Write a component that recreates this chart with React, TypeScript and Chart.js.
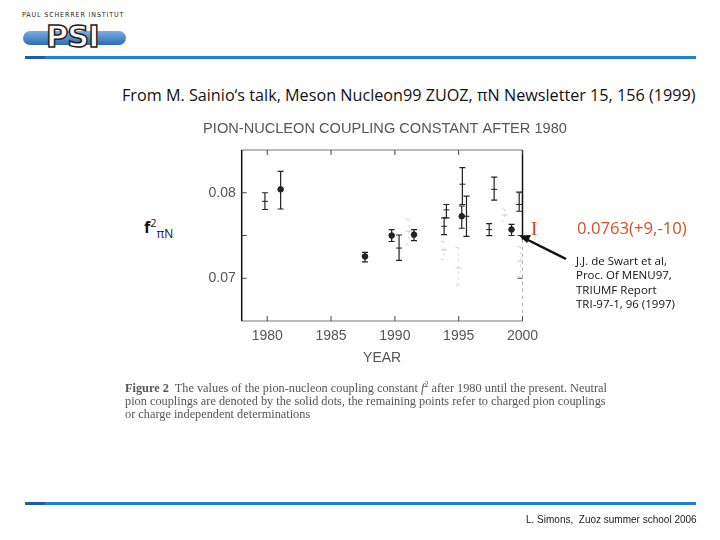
import React, { useEffect, useRef } from "react";
import { Chart, registerables } from "chart.js";

Chart.register(...registerables);

// ---- data ----
const neutralYears = [1981.05, 1987.66, 1989.75, 1991.5, 1995.24, 1999.14];
const neutralValues = [0.0804, 0.07255, 0.075, 0.0751, 0.07725, 0.0757];
const neutralErrUp = [0.0021, 0.00047, 0.0007, 0.0006, 0.0012, 0.0006];
const neutralErrDown = [0.0023, 0.00063, 0.0007, 0.0007, 0.0014, 0.0007];

const chargedYears = [1979.82, 1990.33, 1993.86, 1994.04, 1995.29, 1995.61, 1997.39, 1997.78, 1999.74];
const chargedValues = [0.079, 0.07353, 0.07608, 0.078, 0.081, 0.07725, 0.07569, 0.0804, 0.07863];
const chargedErrUp = [0.001, 0.00153, 0.00098, 0.00063, 0.00194, 0.00236, 0.0007, 0.00144, 0.00145];
const chargedErrDown = [0.00096, 0.00145, 0.00098, 0.00094, 0.00237, 0.00235, 0.00071, 0.00126, 0.00079];

const faintYears = [1991.1, 1993.86, 1995.0, 1998.6, 1999.85];
const faintValues = [0.0755, 0.0733, 0.0712, 0.0774, 0.072];
const faintErrUp = [0.0014, 0.001, 0.0024, 0.0007, 0.0017];
const faintErrDown = [0.0015, 0.0011, 0.002, 0.0007, 0.0018];

const xTicks = [1980, 1985, 1990, 1995, 2000];
const yTicks = [0.07, 0.075, 0.08];
const yTickLabels = ["0.07", "", "0.08"];

const chartTitle = "PION-NUCLEON COUPLING CONSTANT AFTER 1980";
const xTitle = "YEAR";

const toPoints = (xs: number[], ys: number[]) => xs.map((x, i) => ({ x, y: ys[i] }));

const errorBarPlugin = {
  id: "errorBars",
  beforeDatasetsDraw(chart: any) {
    const { ctx, scales } = chart;
    const xs = scales.x;
    const ys = scales.y;
    chart.data.datasets.forEach((ds: any) => {
      const eb = ds.errorBars;
      if (!eb) return;
      ctx.save();
      ctx.strokeStyle = eb.color;
      ctx.lineWidth = eb.width;
      ctx.setLineDash(eb.dash || []);
      ds.data.forEach((p: any, i: number) => {
        const px = xs.getPixelForValue(p.x);
        const yt = ys.getPixelForValue(p.y + eb.up[i]);
        const yb = ys.getPixelForValue(p.y - eb.down[i]);
        ctx.beginPath();
        ctx.moveTo(px, yt);
        ctx.lineTo(px, yb);
        ctx.moveTo(px - 3, yt);
        ctx.lineTo(px + 3, yt);
        ctx.moveTo(px - 3, yb);
        ctx.lineTo(px + 3, yb);
        ctx.stroke();
      });
      ctx.restore();
    });
  },
};

const framePlugin = {
  id: "frame",
  afterDraw(chart: any) {
    const { ctx, chartArea: a, scales } = chart;
    const darkEnd = scales.y.getPixelForValue(0.0745);
    ctx.save();
    ctx.lineWidth = 1.2;
    ctx.strokeStyle = "#777";
    ctx.beginPath();
    ctx.moveTo(a.left, a.top);
    ctx.lineTo(a.right, a.top);
    ctx.moveTo(a.left, a.bottom);
    ctx.lineTo(a.right, a.bottom);
    ctx.stroke();
    ctx.strokeStyle = "#111";
    ctx.lineWidth = 1.5;
    ctx.beginPath();
    ctx.moveTo(a.left, a.top);
    ctx.lineTo(a.left, a.bottom);
    ctx.moveTo(a.right, a.top);
    ctx.lineTo(a.right, darkEnd);
    ctx.stroke();
    ctx.strokeStyle = "#aaa";
    ctx.lineWidth = 1;
    ctx.setLineDash([3, 4]);
    ctx.beginPath();
    ctx.moveTo(a.right, darkEnd);
    ctx.lineTo(a.right, a.bottom);
    ctx.stroke();
    ctx.setLineDash([]);
    ctx.strokeStyle = "#444";
    ctx.lineWidth = 1;
    ctx.beginPath();
    xTicks.forEach((v) => {
      const px = scales.x.getPixelForValue(v);
      ctx.moveTo(px, a.top);
      ctx.lineTo(px, a.top + 5);
      ctx.moveTo(px, a.bottom);
      ctx.lineTo(px, a.bottom - 5);
    });
    yTicks.forEach((v) => {
      const py = scales.y.getPixelForValue(v);
      ctx.moveTo(a.left, py);
      ctx.lineTo(a.left + 5, py);
      ctx.moveTo(a.right, py);
      ctx.lineTo(a.right - 5, py);
    });
    ctx.stroke();
    ctx.restore();
  },
};

function CouplingChart() {
  const ref = useRef<HTMLCanvasElement | null>(null);
  useEffect(() => {
    if (!ref.current) return;
    const font = { family: "'Liberation Sans', Arial, sans-serif", size: 14 };
    const chart = new Chart(ref.current, {
      type: "scatter",
      data: {
        datasets: [
          {
            label: "faint",
            data: toPoints(faintYears, faintValues),
            pointStyle: "line",
            pointRadius: 3,
            borderColor: "#c8c8c8",
            borderWidth: 1,
            errorBars: { up: faintErrUp, down: faintErrDown, color: "#cfcfcf", width: 1, dash: [2, 4] },
          } as any,
          {
            label: "charged",
            data: toPoints(chargedYears, chargedValues),
            pointStyle: "line",
            pointRadius: 3,
            borderColor: "#222",
            borderWidth: 1,
            errorBars: { up: chargedErrUp, down: chargedErrDown, color: "#222", width: 1.2 },
          } as any,
          {
            label: "neutral",
            data: toPoints(neutralYears, neutralValues),
            pointStyle: "circle",
            pointRadius: 2.8,
            backgroundColor: "#222",
            borderColor: "#222",
            borderWidth: 1,
            errorBars: { up: neutralErrUp, down: neutralErrDown, color: "#222", width: 1.2 },
          } as any,
        ],
      },
      options: {
        animation: false,
        responsive: true,
        maintainAspectRatio: false,
        layout: { padding: 0 },
        plugins: {
          legend: { display: false },
          tooltip: { enabled: false },
          title: {
            display: true,
            text: chartTitle,
            color: "#555",
            font: { ...font, size: 14.6, weight: "normal" },
            padding: { top: 9.8, bottom: 12.7 },
          },
        },
        scales: {
          x: {
            type: "linear",
            min: 1978,
            max: 2000,
            afterBuildTicks: (s: any) => {
              s.ticks = xTicks.map((v) => ({ value: v }));
            },
            afterFit: (s: any) => {
              s.height = 49;
            },
            ticks: { color: "#555", font, padding: 7, callback: (v: any) => String(v), maxRotation: 0 },
            grid: { display: false, drawTicks: false },
            border: { display: false },
            title: {
              display: true,
              text: xTitle,
              color: "#555",
              font,
              padding: { top: 0, bottom: 3 },
            },
          },
          y: {
            type: "linear",
            min: 0.065,
            max: 0.085,
            afterBuildTicks: (s: any) => {
              s.ticks = yTicks.map((v) => ({ value: v }));
            },
            afterFit: (s: any) => {
              s.width = 61.7;
            },
            ticks: {
              color: "#555",
              font,
              padding: 6,
              callback: (v: any) => {
                const i = yTicks.findIndex((t) => Math.abs(t - v) < 1e-9);
                return i >= 0 ? yTickLabels[i] : "";
              },
            },
            grid: { display: false, drawTicks: false },
            border: { display: false },
          },
          yRight: {
            type: "linear",
            position: "right",
            display: true,
            afterFit: (s: any) => {
              s.width = 67.5;
            },
            ticks: { display: false },
            grid: { display: false, drawTicks: false },
            border: { display: false },
          },
        },
      } as any,
      plugins: [errorBarPlugin, framePlugin],
    });
    return () => chart.destroy();
  }, []);
  return (
    <div style={{ position: "absolute", left: 180, top: 110, width: 410, height: 260 }}>
      <canvas ref={ref} />
    </div>
  );
}

export default function App() {
  useEffect(() => {
    document.body.style.margin = "0";
  }, []);
  const comic = "'Open Sans', 'DejaVu Sans', sans-serif";
  const abs = (l: number, t: number, extra: React.CSSProperties = {}): React.CSSProperties => ({
    position: "absolute",
    left: l,
    top: t,
    whiteSpace: "nowrap",
    ...extra,
  });
  return (
    <div style={{ position: "absolute", left: 0, top: 0, width: 720, height: 540, background: "#fff", overflow: "hidden" }}>
      {/* Logo */}
      <div style={abs(22, 11, { fontFamily: "'DejaVu Sans Condensed', 'DejaVu Sans', sans-serif", fontSize: 7, letterSpacing: 0.9, color: "#222" })}>
        PAUL SCHERRER INSTITUT
      </div>
      <div
        style={abs(23, 31, {
          width: 103,
          height: 14,
          borderRadius: 7,
          background: "linear-gradient(#7aaee2, #2e6cb4)",
        })}
      />
      <div
        style={abs(46, 21, {
          fontFamily: "'DejaVu Sans', sans-serif",
          fontWeight: "bold",
          fontSize: 31,
          lineHeight: "31px",
          color: "#fff",
          WebkitTextStroke: "1.5px #222",
          letterSpacing: -1,
          transform: "scaleX(0.98)",
          transformOrigin: "left top",
        } as React.CSSProperties)}
      >
        PSI
      </div>
      {/* top rule */}
      <div style={abs(25, 56, { width: 671, height: 3, background: "#1f80d8" })} />
      <div style={abs(25, 56, { width: 20, height: 3, background: "#1a5eab" })} />

      {/* source line */}
      <div style={abs(122, 84, { fontFamily: comic, fontSize: 16.2, color: "#111" })}>
        From M. Sainio‘s talk, Meson Nucleon99 ZUOZ, πN Newsletter 15, 156 (1999)
      </div>

      <CouplingChart />

      {/* f^2 label */}
      <div style={abs(144, 215, { fontFamily: comic, fontSize: 16, color: "#111" })}>
        <b>f</b>
        <sup style={{ fontSize: 11 }}>2</sup>
        <sub style={{ fontSize: 12 }}>πN</sub>
      </div>

      {/* red annotation */}
      <div style={abs(531, 218, { fontFamily: "'Liberation Serif', serif", fontSize: 19, color: "#d9441e" })}>I</div>
      <div style={abs(577, 216, { fontFamily: comic, fontSize: 16.7, color: "#d4502a" })}>0.0763(+9,-10)</div>

      {/* arrow */}
      <svg style={{ position: "absolute", left: 0, top: 0 }} width={720} height={540}>
        <line x1={566} y1={259} x2={526} y2={239} stroke="#111" strokeWidth={2.5} />
        <polygon points="519,235.5 531,235 527,243" fill="#111" />
      </svg>

      <div style={abs(576, 254, { fontFamily: comic, fontSize: 11.5, lineHeight: "14.3px", color: "#111" })}>
        J.J. de Swart et al,
        <br />
        Proc. Of MENU97,
        <br />
        TRIUMF Report
        <br />
        TRI-97-1, 96 (1997)
      </div>

      {/* figure caption */}
      <div
        style={abs(125, 382, {
          fontFamily: "'Liberation Serif', serif",
          fontSize: 12.3,
          lineHeight: "13.2px",
          color: "#555",
        })}
      >
        <b>Figure 2</b>&nbsp; The values of the pion-nucleon coupling constant <i>f</i>
        <sup style={{ fontSize: 8, lineHeight: 0 }}>2</sup> after 1980 until the present. Neutral
        <br />
        pion couplings are denoted by the solid dots, the remaining points refer to charged pion couplings
        <br />
        or charge independent determinations
      </div>

      {/* bottom rule */}
      <div style={abs(25, 502, { width: 671, height: 3, background: "#1f80d8" })} />
      <div style={abs(25, 502, { width: 20, height: 3, background: "#1a5eab" })} />
      <div style={abs(526, 514, { fontFamily: "'Liberation Sans', Arial, sans-serif", fontSize: 10, color: "#222" })}>
        L. Simons,&nbsp; Zuoz summer school 2006
      </div>
    </div>
  );
}
